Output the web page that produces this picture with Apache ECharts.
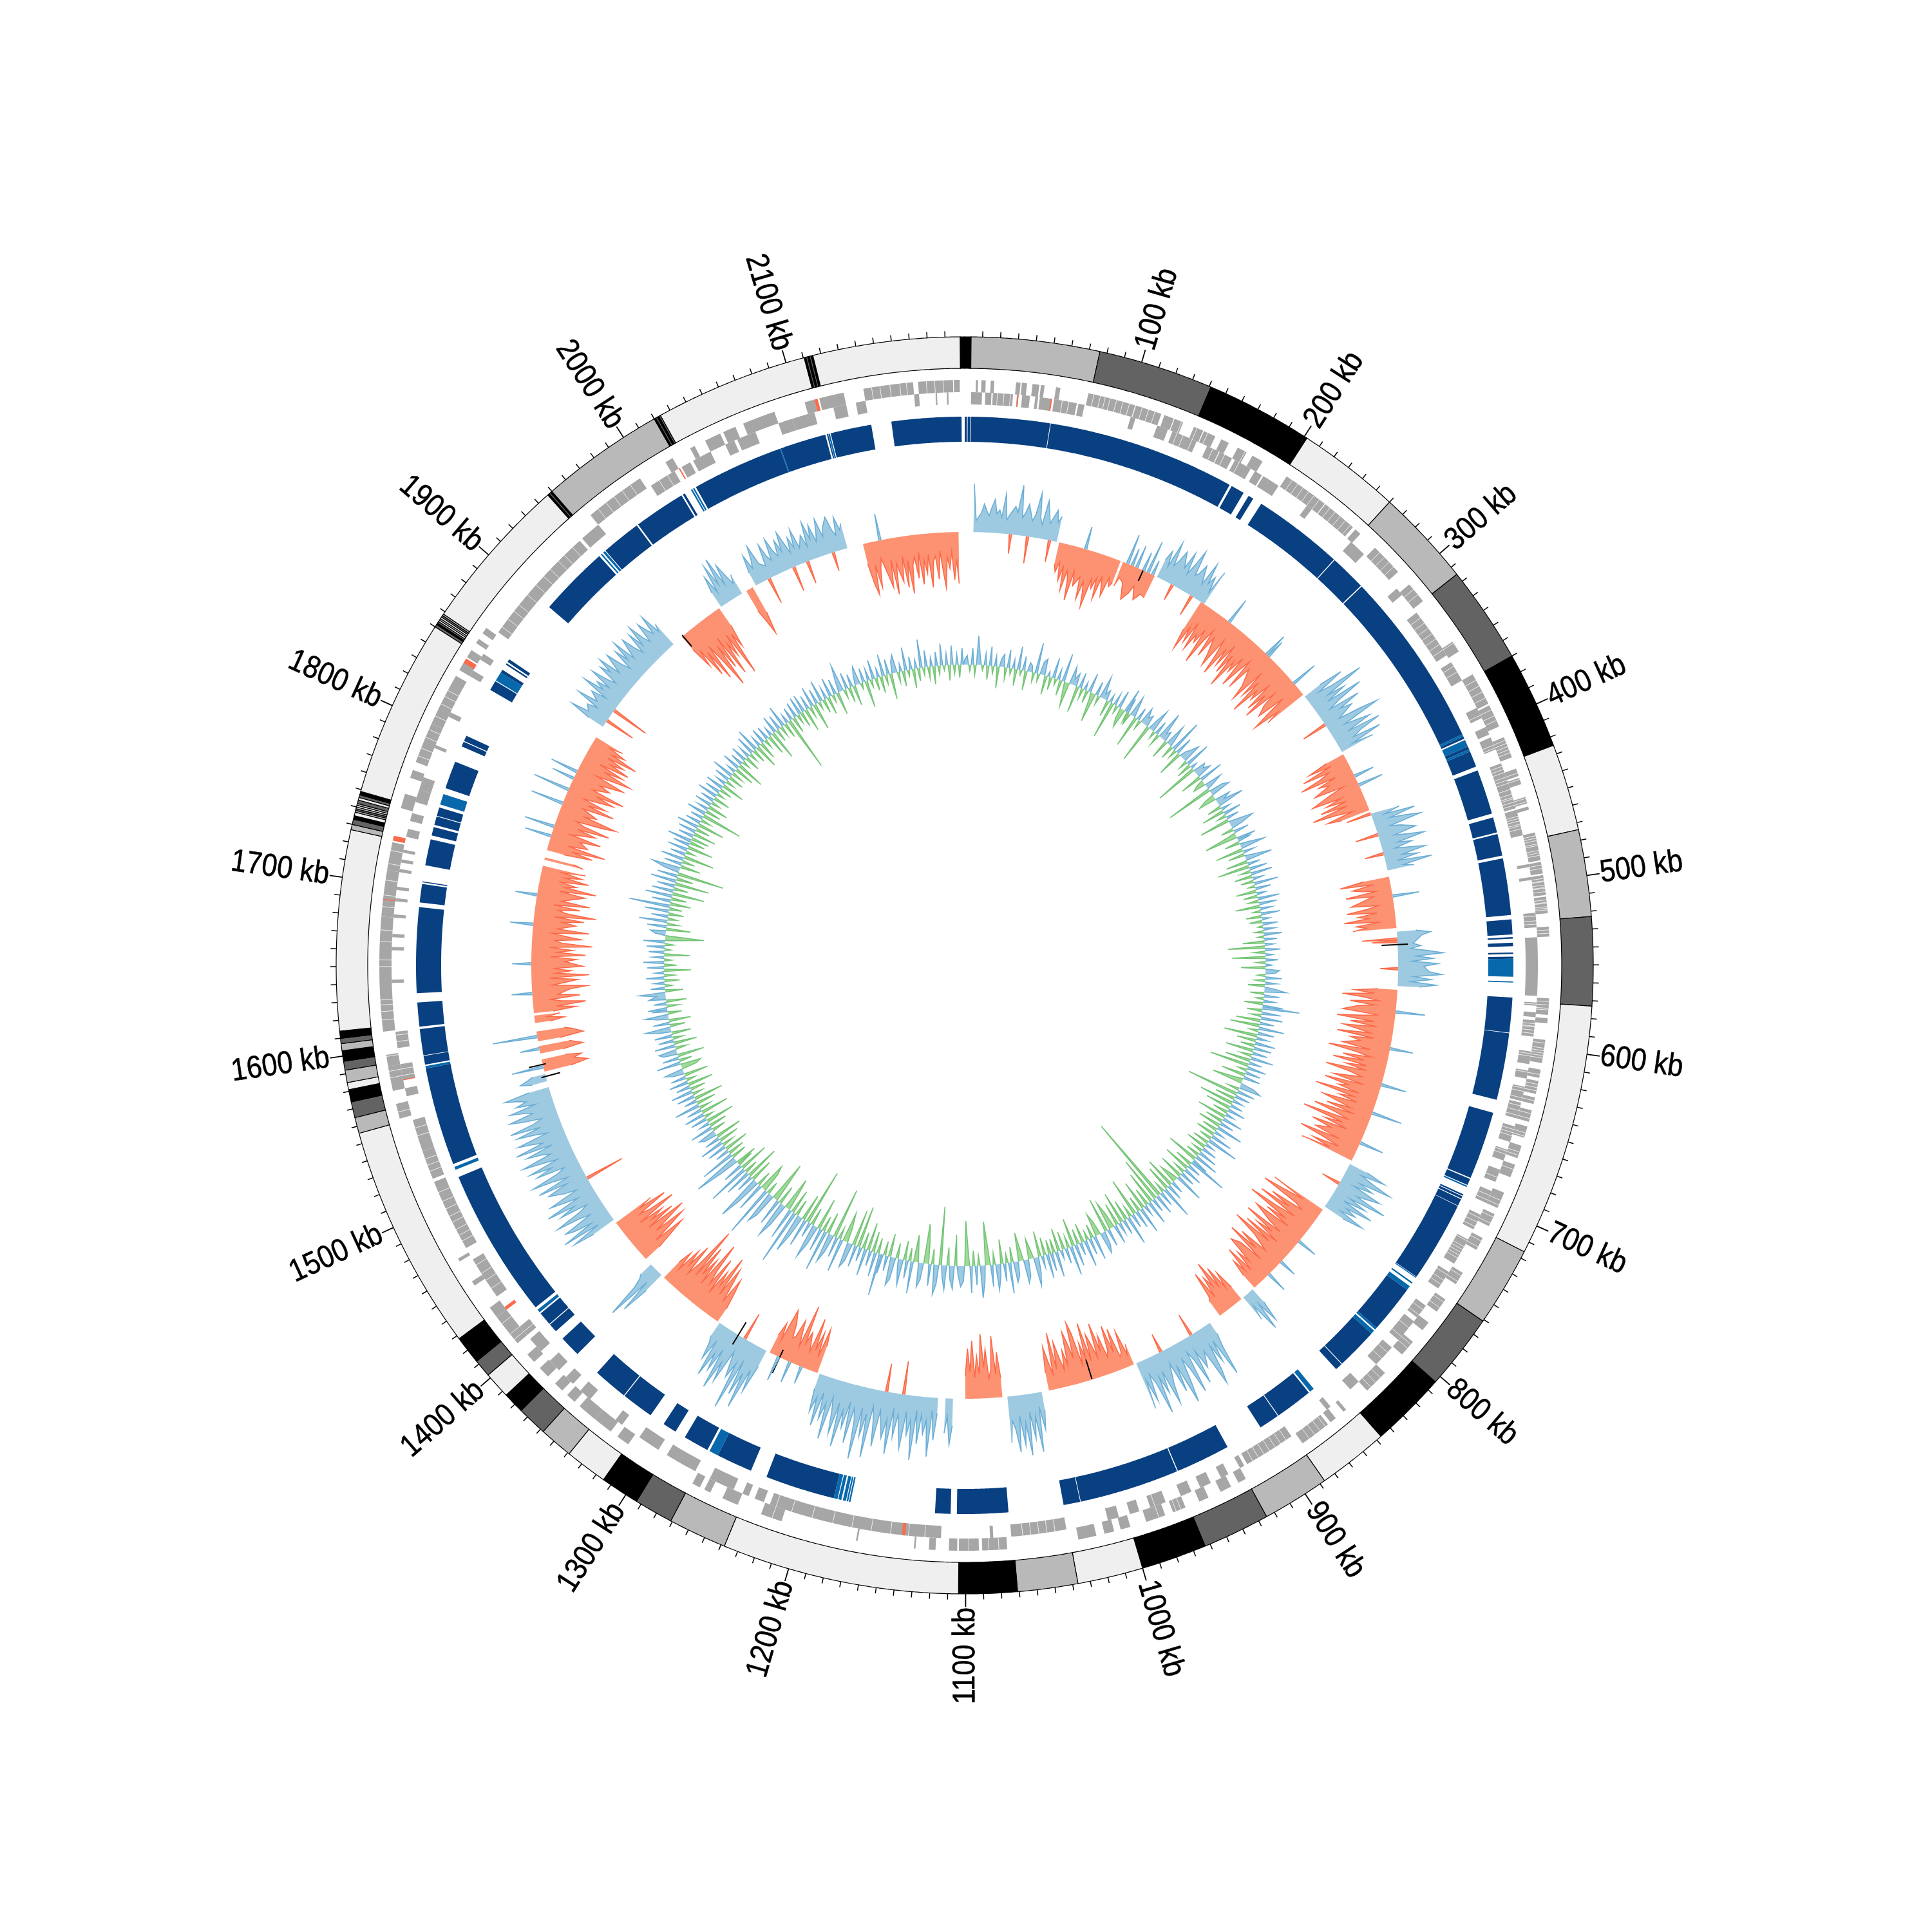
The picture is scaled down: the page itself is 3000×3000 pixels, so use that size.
<!DOCTYPE html>
<html><head><meta charset="utf-8"><style>html,body{margin:0;padding:0;background:#fff}#c{width:3000px;height:3000px}</style>
<script src="https://cdn.jsdelivr.net/npm/echarts@6/dist/echarts.min.js"></script></head>
<body><div id="c"></div>
<script>
const GENOME_KB = 2201;
const tickLabels = ['100 kb','200 kb','300 kb','400 kb','500 kb','600 kb','700 kb','800 kb','900 kb','1000 kb','1100 kb','1200 kb','1300 kb','1400 kb','1500 kb','1600 kb','1700 kb','1800 kb','1900 kb','2000 kb','2100 kb'];
const labelKb = [100,200,300,400,500,600,700,800,900,1000,1100,1200,1300,1400,1500,1600,1700,1800,1900,2000,2100];
const minorTickStepKb = 10;

const bandRows = [
[0,3.6,3],[3.6,76,1],[76,141,2],[141,201.7,3],[201.7,260,0],[260,315,1],[315,370,2],[370,425,3],[425,474,0],[474,523,1],[523,573,2],
[573,716,0],[716,761,1],[761,804,2],[804,847,3],[847,887,0],[887,925,1],[925,963,2],[963,1000,3],[1000,1037,0],[1037,1071,1],[1071,1104,3],
[1104,1238,0],[1238,1271,1],[1271,1293,2],[1293,1315,3],[1315,1339,0],[1339,1358,1],[1358,1375,2],[1375,1387,3],[1387,1402,0],[1402,1412,2],[1412,1428,3],
[1428,1556,0],[1556,1565,1],[1565,1574,2],[1574,1581,3],[1581,1585,0],[1585,1592,1],[1592,1597,2],[1597,1603,3],[1603,1607,1],[1607,1610,2],[1610,1614,3],
[1614,1727,0],[1727,1730,1],[1730,1733,2],[1733,1735,3],[1735,1737,0],[1737,1738,1],[1738,1739,2],[1739,1740,1],[1740,1741,0],[1741,1742,1],[1742,1744,2],[1744,1745.5,0],[1745.5,1747,2],[1747,1749,3],
[1749,1850,0],[1850,1851.5,2],[1851.5,1852.5,3],[1852.5,1853.5,2],[1853.5,1854.5,0],[1854.5,1855.5,1],[1855.5,1856.5,0],[1856.5,1857.5,2],[1857.5,1858.5,1],
[1858.5,1947,0],[1947,1948,3],[1948,1949,2],[1949,1950,3],[1950,2020,1],[2020,2021,3],[2021,2022,2],[2022,2023,3],[2023,2024,2],
[2024,2110.5,0],[2110.5,2111.5,3],[2111.5,2112.5,2],[2112.5,2113.5,3],[2113.5,2114.5,2],[2114.5,2115.5,3],[2115.5,2198.5,0],[2198.5,2201,3]];

const contigDark = [[0,1.4],[1.9,3.4],[3.8,54.8],[55.2,176.5],[178,186.8],[190.5,194],[200,258.6],[259.2,282.6],[283.3,398],[399.5,401],[406.5,408.5],[410,420.4],[423,452],[454.6,464.5],[465.6,479.7],[481.5,518],[520.8,530.5],[532.2,533.2],[535.8,538],[542,543],[544.7,546],[570.8,593.3],[593.7,637],[645.6,689.6],[690.3,694.5],[701,702],[702.5,704],[704.5,709],[709.3,761.6],[772,803],[808,834.8],[835.3,840],[863,887.3],[887.8,901],[925.5,960.7],[961.3,1025.8],[1026.2,1037],[1072.5,1105.5],[1109.5,1119.5],[1185,1230],[1240.7,1264],[1271.5,1288],[1295,1304],[1314,1334.7],[1335.3,1357.7],[1375,1388.7],[1395,1400.7],[1401.3,1410],[1415,1512],[1521,1584.5],[1587,1592.6],[1593,1610],[1611.5,1627],[1633,1688],[1691,1703],[1704,1704.6],[1715,1732],[1734.5,1740],[1741.5,1747],[1747.5,1753],[1766,1784],[1794.6,1797.8],[1798.4,1802],[1835,1841.5],[1848,1850],[1854,1855],[1856,1858],[1900,1945.7],[1951,1976.6],[1977.6,2011],[2012,2013.5],[2021.6,2080.7],[2081.3,2111],[2112,2112.8],[2114.5,2141],[2154,2199]];
const contigLight = [[398,399.5],[402,406.5],[408.5,410],[546,557.5],[560.5,561.2],[695,696],[761.9,762.5],[766,767],[769,772],[803,804.5],[805.5,808],[859,862],[1174,1175],[1175.5,1176.5],[1177,1179],[1180,1182],[1182.5,1185],[1264,1270],[1411,1413],[1517,1519],[1584.5,1586],[1755,1762],[1842,1848],[1947,1948],[1949,1950.5],[2018,2019],[2019.5,2020.5],[2080.7,2081.3],[2113,2114]];

const geneOuter = [[6.7,8],[10,12.6],[15.6,17.7],[30.8,33.5],[34.3,37.4],[40.7,44.8],[45.8,48],[54.9,57.6],[74.6,103.5],[104,120],[122,128],[128.5,134],[141,147],[147.5,155],[159,164],[170,176],[180,187],[204,232],[232.5,254],[256,260],[272,292],[302,315],[345,352],[368,388],[389,403],[410,423],[430,435],[436,440],[448,452],[454,456],[470,487],[488,495],[496,508],[509,519],[527,533],[570,580],[582,585],[595,609],[613,618],[620,628],[630,634],[638,645],[648,655],[660,668],[672,680],[690,700],[704,712],[720,728],[744,752],[763,772],[780,786],[795,805],[820,835],[852,854],[860,864],[866,885],[925,930],[935,942],[950,956],[965,973],[978,990],[1000,1006],[1010,1016],[1021,1032],[1075,1090],[1092,1104],[1105,1110],[1118,1122],[1130,1131],[1165,1166],[1212,1225],[1240,1250],[1258,1262],[1265,1270],[1315,1323],[1328,1340],[1340,1352],[1356,1362],[1366,1372],[1378,1385],[1390,1396],[1405,1425],[1425,1432],[1448,1451],[1465,1467],[1558,1567],[1575,1590],[1590,1597],[1611,1680],[1680,1708],[1708,1725],[1746,1755],[1765,1770],[1775,1800],[1800,1832],[1836,1842],[1845,1850],[1855,1858],[1862,1866],[1958,1995],[2013,2018],[2030,2033],[2040,2050],[2052,2060],[2065,2085],[2104,2110],[2113,2128],[2140,2170],[2173,2194],[2194.5,2198]];
const geneInner = [[3.9,10.6],[12.6,16.4],[17.2,29.6],[32,33],[35.2,40],[43.3,45],[46.1,53.6],[54.9,69],[70,73.8],[103,106],[120,127],[130,146],[153,161],[161.5,170],[172,183],[186,191],[192,203],[224,228],[259,270],[299,304],[318,350],[355,368],[387,394],[400,405],[407,415],[424,453],[454,470],[488,490],[496,498],[518,527],[533,569],[573,575],[579,582],[584,594],[603,611],[615,620],[625,634],[635,645],[650,660],[665,672],[678,686],[692,700],[708,718],[725,742],[748,760],[773,782],[785,800],[806,820],[835,842],[858,861],[888,920],[922,925],[933,938],[945,952],[958,965],[975,985],[992,998],[1005,1012],[1038,1072],[1083,1085],[1115,1222],[1226,1232],[1236,1240],[1246,1262],[1272,1292],[1298,1312],[1325,1330],[1350,1358],[1364,1370],[1376,1384],[1392,1402],[1405,1412],[1435,1462],[1470,1515],[1517,1535],[1535,1555],[1570,1575],[1580,1590],[1600,1610],[1640,1642],[1660,1662],[1668,1670],[1680,1682],[1690,1692],[1697,1699],[1708,1710],[1714,1716],[1720,1722],[1730,1735],[1740,1745],[1752,1760],[1760,1768],[1787,1789],[1808,1811],[1836,1840],[1848,1852],[1868,1943],[1945,1958],[1998,2015],[2020,2026],[2028,2040],[2050,2056],[2058,2070],[2085,2094],[2094,2108],[2120,2128],[2134,2140],[2170,2173],[2183,2184],[2190,2191]];
const geneMarkedOuter = [[1726,1729],[1841,1844],[2110,2112],[1690,1690.6]];
const geneMarkedInner = [[32.3,33],[52.8,53.6],[1137,1139],[2018,2018.8],[1425,1427],[1580,1580.5]];
const geneBreaks = [20,24,28,60,64,78,82,85,88,92,96,100,108,112,116,133,137,143,150,157,165,175,208,212,216,220,224,228,236,240,244,248,252,276,280,284,288,306,310,322,326,330,334,338,342,346,358,362,372,376,380,384,392,396,399,412,414,416,418,420,426,428,430,433,435,437,441,444,446,447,449,451,458,459.5,461,463,464,466,472,473.5,475,477,478,481,482.5,484,490,492,498,499.5,500,502,503.5,504,506,511,512.5,513,515,516,517,520,523,525,529,531,572,574,576,577,586,587.5,588,590,592,597,600,601.5,603,604.5,606,616,622,624,626,628,632,637,640,643,647,652,654,656,664,666,668,675,683,688,695,698,706,710,713,716,722,726,730,732,734,736,738,746,750,754,757,765,769,776,780,790,797,800,810,815,824,828,832,868,872,876,880,892,896,900,904,908,912,916,968,971,982,1045,1050,1055,1060,1065,1080,1086,1098,1125,1135,1146,1158,1170,1182,1195,1208,1218,1408,1412,1420,1441,1447,1452,1458,1475,1479,1483,1488,1492,1497,1502,1508,1522,1526,1530,1545,1550,1562,1583,1587,1596,1604,1608,1618,1623,1627,1630,1650,1654,1665,1672,1686,1693,1702,1712,1720,1779,1784,1791,1796,1805,1813,1818,1822,1872,1878,1884,1889,1897,1905,1912,1918,1925,1930,1937,1964,1970,1976,1982,1988,2004,2010,2145,2150,2156,2162,2166,2178,2183,2188];

// signed coverage: 2 kb bins
const cov0007 = [75,18,24,30,44,34,26,40,52,30,36,25,62,22,30,-30,44,35,78,28,36,50,-42,25,36,70,32,22,60,42,26,-34,48,30,40];
const cov0077 = [-34,-46,-30,-58,-36,-72,-40,-52,-85,-38,-60,36,-44,-78,-50,-66,-88,-42,-56,-38,-70,-34,-48,-62,-30,-44,-36];
const cov0131 = [-40,-25,48,-30,28,-55,36,-42,-28,30,-48,52,-35,24,-38];
const cov0161 = [30,46,22,64,28,38,56,-26,32,60,26,44,70,30,36,52,-34,24,62,30,44,20,58];
const cov0202 = [-50,-82,-42,-66,-30,-74,-46,-58,-32,-88,-48,-26,-70,-34,42,-60,-78,-28,-52,-85,-36,-64,-24,-72,-38,-92,-44,-60,-30,-80,-50,-26,-76,-36,38,30,-62,-84,-26,-70,-40,-96,-52,-66,-30,-78,-46,-88,-34,-58,42,-74,-28,-64,-90,-48,-70];
const cov0316 = [30,68,22,44,95,30,58,24,82,40,20,70,34,52,-40,24,60,88,26,46,66,24,78,42,28,72,22,55];
const cov0372 = [-30,-62,-26,-76,-34,-50,-85,-28,-58,-42,32,-70,-24,-48,40,-80,-34,-60,-28,-72,-30,-88,-52,-26,-68,-46];
const cov0425 = [-40,46,20,68,26,52,73,22,38,-36,60,24,44,70,26,48,20,-30,66,28,52,18,72,26,42];
const cov0478 = [-40,-78,-26,-60,-46,-24,-72,-30,42,-54,-66,-24,-44,-74,-28,-58,-42,-80,-24,-62,-46,-68];
const cov0523 = [30,52,38,-55,-40,24,36,20,46,70,28,55,22,62,40,-28,48,68,24,52,20,60,34];
const cov0570 = [-30,-66,-36,-85,-50,-28,-72,-34,-60,46,-82,-26,-52,-90,-32,-68,-26,-78,-56,-34,-86,-28,-64,-48,36,-75,-30,-95,-52,-26,-70,-36,-84,-30,-62,-28,-92,-54,-32,40,-76,-26,-88,-50,-64,-30,-98,-36,-58,-28,-82,48,-34,-72,-26,-90,-54,-30,-104,-38,-66,-28,-84,-52,38,-74,-32,-96,-58,-28,-70,-40,-86];
const cov0717 = [30,62,24,46,78,28,52,22,70,-30,34,85,26,56,20,72,30,48,24,66,34];
const cov0760 = [-90,-34,-66,-102,-40,-28,-80,-46,-96,-30,-62,-108,-38,-72,-28,-88,32,-58,-32,-94,-42,-70,-26,-84,-36,-100,-60,28,-30,-76,-44,-92,-26,-66,34,-80,-36,-58,-24,-70,-30,-52,-26];
const cov0846 = [26,58,24,68,20,44];
const cov0858 = [-24,-56,-30,-70,-36,-84,-44,-62,-28,-74,-34,-26];
const cov0890 = [20,42,88,26,60,30,70,92,32,-36,56,24,78,36,20,86,44,26,64,95,30,72,22,-30,54,84,28,62,34,92,40,24,66,30,76];
const cov0960 = [-34,-18,-58,-24,-20,-66,-30,-74,-36,-26,-62,-40,-84,-30,-52,-70,-28,-90,-36,-60,-24,-78,-96,-40,-66,-84,-32,-56,-26,-48,-72,-30,-88,-24,-44,-68,-28];
const cov1038 = [28,58,22,92,36,70,28,95,44,78,32,88,52,38,72];
const cov1070 = [-30,-70,-36,-96,-44,-30,-76,-48,-100,-38,-66,-32,-90,-42,-78,-36];
const cov1110 = [42,72,28,54];
const cov1119 = [-110];
const cov1122 = [24,66,20,92,36,58,28,74,22,100,38,62,26,84,-52,32,68,24,96,42,72,-44,30,88,48,26,108,40,76,32,114,54,36,92,28,70,44,102,34,84,50,28,96,40,66,26,80,36,60,24];
const cov1222 = [-44,-70,-24,-62,-32,-82,-26,28,-56,-36,-96,-28,34,-68,-40,-36,-58,40,-78,-26,-52,-30];
const cov1267 = [28,72,38,104,48,86,30,114,40,66,-44,26,80,50,96,32,70,44,84,26,60,34,24];
const cov1313 = [-24,-52,-72,-30,-60,-84,-36,-100,-48,-70,-28,-88,-40,-62,-108,-32,-74,-44,-92,-36,-118,-52,-30,-80,-42,-66,-26,-56,-34];
const cov1372 = [34,78,24,95,44,28,22];
const cov1390 = [-28,-58,-82,-32,-66,-92,-42,-72,-100,-36,-84,-48,-70,-30,-96,-54,-38,-88,-44,-66];
const cov1431 = [38,72,24,84,32,60,74,26,44,80,36,22,66,40,84,28,50,72,24,42,-62,66,32,78,26,48,82,36,24,68,42,76,28,52,82,34,46,70,26,84,38,54,76,26,44,72,32,80,40,26,54,75,36,48,70,28,58,40,52,72,32];
const cov1556 = [24,42,30,20];
const cov1564 = [-42,-70,50,-50,-62,-38];
const cov1579 = [-36,-68,30,-48];
const cov1589 = [-34,-72,70,-56,-44];
const cov1604 = [-24,-46,-20,-40];
const cov1612 = [-30,-66,-36,-82,-44,-28,-74,-40,32,-60,-86,-32,-54,-72,-28,-90,-38,-62,-34,-80,30,-52,-70,-30,-84,-40,-64,-28,-94,-46,-36,-76,-52,-30,-88,-38,36,-66,-44,-78,-32,-96,-48,-36,-70,-28,-84,-40,34,-62,-74,-34,-90,-42,-58,-30,-76,-38,-64,-32,-68];
const cov1737 = [-62,-46];
const cov1745 = [-28,-72,-38,-90,-30,-60,42,-46,-78,-28,48,-66,-36,-86,-44,-30,-70,-92,-40,-58,52,-32,-82,-38,-66,-28,58,-74,-44,-88,-34,36,-60,-42,44,-78,-30,-56,-84,-38,-68,-26,-74,-42,-62,-32,-80,-36,-56,-28,-48];
const cov1855 = [26,60,32,-48,40,24,62,30,-60,46,22,66,34,48,28,64,38,24,58,42,66,30,46,62,36,22,56,34,66,28,44,60,38,24,58,32,66,40,28,60,44,34,64,30,42];
const cov1952 = [-26,-62,-34,-84,-44,-96,-38,-70,-116,-46,-88,-36,-104,-52,-76,-40,-112,-44,-68,-32];
const cov1992 = [26,52,22,66,32,74,26,58,38,20,34];
const cov2016 = [-36,-56,-79,-44];
const cov2025 = [22,50,26,38,60,28,-42,20,54,32,24,58,36,26,50,30,60,-40,22,46,28,56,24,-36,42,22,60,32,52,24,38,58,28,42,-30,56,34,24,52,30,40];
const cov2111 = [-44];
const cov2118 = [-32,-66,-82,-36,-72,-44,-28,42,-60,-76,-32,-88,-40,-56,-70,-30,-80,-38,-90,-46,-34,-68,-28,-78,-40,-62,-32,-84,-44,-36,-72,-28,-60,-86,-38,-56,-30,-74,-42,-80];
const coverageSections = [[7,cov0007],[77,cov0077],[131,cov0131],[161,cov0161],[202,cov0202],[316,cov0316],[372,cov0372],[425,cov0425],[478,cov0478],[523,cov0523],[570,cov0570],[717,cov0717],[760,cov0760],[846,cov0846],[858,cov0858],[890,cov0890],[960,cov0960],[1038,cov1038],[1070,cov1070],[1110,cov1110],[1119,cov1119],[1122,cov1122],[1222,cov1222],[1267,cov1267],[1313,cov1313],[1372,cov1372],[1390,cov1390],[1431,cov1431],[1556,cov1556],[1564,cov1564],[1579,cov1579],[1589,cov1589],[1604,cov1604],[1612,cov1612],[1737,cov1737],[1745,cov1745],[1855,cov1855],[1952,cov1952],[1992,cov1992],[2016,cov2016],[2025,cov2025],[2111,cov2111],[2118,cov2118]];
const blackMarks = [[148.6,655,680],[533.5,648,689],[996,640,672],[1255,660,700],[1293,650,690],[1560,650,680],[1570,668,695],[1953,652,675]];

// signed skew: 3 kb bins, rows of 200 kb
const skew0000 = [8,14,-10,26,-16,45,10,-8,18,-22,30,-12,16,-34,12,20,-18,28,-10,14,-26,36,-8,22,-30,14,10,-14,48,-12,20,26,-30,8,-20,32,-10,16,-24,44,-14,-38,28,10,20,-42,24,-16,12,-20,30,-10,-46,22,-14,34,8,16,-26,12,-58,18,-12,28,-18,-30,38,-16];
const skew0200 = [24,-20,32,10,-50,20,-14,26,12,18,-62,14,36,-12,22,-18,44,10,16,-30,34,12,-22,52,-14,28,-40,10,18,30,-14,40,-24,10,-68,20,14,24,-34,38,-12,-20,28,10,-74,22,32,-16,-28,24,12,42,-22,14,-36,28,-14,20,-48,12,38,18,-20,24,-12,-52,30];
const skew0400 = [22,-24,14,38,-44,18,-26,12,42,-34,20,-50,28,-16,34,-28,16,-20,38,-10,24,-32,14,-22,34,-16,28,-38,18,-12,30,-24,12,-20,24,-8,18,-14,28,-10,20,-34,14,-57,24,-18,12,-52,20,-14,10,-38,22,16,-12,26,-16,18,-26,14,34,-22,24,-12,18,-30,32];
const skew0600 = [58,-24,30,-16,34,-38,22,-46,40,-14,26,-52,18,-30,32,-22,28,-44,24,-18,36,-40,20,-62,30,-14,24,-38,26,-12,-48,22,34,-18,28,-82,24,-32,16,-54,20,-40,28,-24,14,-46,32,-28,22,-36,42,-24,16,-30,34,-20,50,-26,14,-32,24,-16,30,-22,38,-50,26];
const skew0800 = [62,-28,22,-42,30,-18,24,-38,46,-14,-30,20,-48,26,-40,52,-16,24,-139,32,-72,22,-52,38,-28,16,-46,42,-24,28,-60,22,-18,46,-32,24,-50,18,-36,30,-24,-44,28,-54,22,34,-20,-36,38,-22,26,-14,42,-30,20,-24,34,-44,46,-18,24,-28,14,-36,40,-22,28];
const skew1000 = [-22,38,-28,18,-40,24,44,-12,-32,26,36,-16,-44,22,32,-24,48,-14,28,-38,20,40,-18,34,-26,-68,24,50,-16,30,-24,42,-20,-70,24,32,14,-48,36,22,-28,38,18,-91,30,46,-24,34,-32,-62,26,38,-14,-42,50,-20,28,-30,40,16,-24,34,44,-36,24,-22,30];
const skew1200 = [66,-24,38,-32,24,-44,42,-26,22,-65,34,-56,28,40,-24,-46,52,-18,32,-79,28,46,-34,64,-24,36,-50,30,54,-28,24,-88,44,-42,32,62,-26,87,-38,50,-22,-52,36,58,-30,42,-24,-64,38,52,-20,81,-32,-44,46,-24,40,72,-36,28,-54,42,-22,66,-47,32,-26];
const skew1400 = [-34,30,73,-24,54,-26,22,-38,30,-18,38,-32,24,-42,20,28,-22,36,-28,16,-45,26,-14,32,-44,24,-18,40,-30,20,-46,28,-16,34,-24,22,-40,30,-14,24,-38,18,30,-24,-32,38,-20,26,-42,22,28,-18,32,-36,24,-16,28,-30,20,40,-24,26,-34,16,36,-22,24];
const skew1600 = [30,-18,20,-32,26,14,40,-28,22,-12,16,-24,28,-16,14,-42,26,-20,32,-12,18,-40,24,-10,28,-14,34,-22,-60,16,24,-38,30,-18,44,-14,26,-24,38,-20,64,-32,30,-24,42,-50,34,-22,28,-54,40,-26,32,-73,24,44,-32,28,-20,36,-48,24,-14,32,-40,26,-24];
const skew1800 = [38,-28,24,-36,28,-22,34,-42,24,-16,20,-64,30,-24,18,-32,26,-14,22,-26,32,-12,24,-20,28,-36,16,-14,24,-24,34,-18,14,-32,28,-44,20,-12,26,-24,18,-14,30,-22,37,-38,16,-28,24,-14,22,-32,14,-46,28,-20,24,-16,34,-24,14,-85,20,-26,24,-14,28];
const skew2000 = [-24,28,-36,22,-16,32,-42,24,-12,34,-22,18,-28,30,-12,24,-36,16,42,-14,26,-24,20,-32,14,28,-10,22,-42,18,-12,30,-20,14,-26,34,-14,24,-40,18,28,-16,12,-24,36,-10,20,-30,14,-20,44,-12,26,-18,14,-28,22,-14,34,-8,18,-24,30,-14,16,-20,26];
const skewRows = [[0,skew0000],[200,skew0200],[400,skew0400],[600,skew0600],[800,skew0800],[1000,skew1000],[1200,skew1200],[1400,skew1400],[1600,skew1600],[1800,skew1800],[2000,skew2000]];

const covBinKb = 2, skewBinKb = 3;
const R = {outer:976, ideoIn:927, tickMinor:985, tickMajor:996, label:997, geneOutHi:909, geneMid:890, geneInLo:871, contigHi:852, contigLo:813, covBase:673, skewBase:467};
const bandColors = ['#efefef','#b9b9b9','#636363','#000000'];
const C = {gene:'#a6a6a6',mark:'#fb6a4a',dark:'#084081',light:'#0868ac',covPos:'#9ecae1',covPosLine:'#6baed6',covNeg:'#fc9272',covNegLine:'#fb6a4a',skewNeg:'#a1d99b',skewNegLine:'#74c476'};
const LW = 1.6;

function arcPoly(api,a,b,r0,r1){
  const pts=[], n=Math.max(1,Math.ceil(b-a));
  for(let i=0;i<=n;i++) pts.push(api.coord([r1,a+(b-a)*i/n]));
  for(let i=n;i>=0;i--) pts.push(api.coord([r0,a+(b-a)*i/n]));
  return pts;
}
function ribbon(data,r0,r1,fill,extra){
  return {type:'custom',coordinateSystem:'polar',silent:true,animation:false,data:data,
    renderItem:(p,api)=>{
      const a=api.value(0),b=api.value(1);
      const col=typeof fill==='function'?fill(api.value(2)):fill;
      return {type:'polygon',shape:{points:arcPoly(api,a,b,r0,r1)},style:Object.assign({fill:col},extra||{})};
    }};
}
// A section has one dominant sign that fills a band; opposite bins are thin spikes on top of it.
function sectionSeries(sections,base,bin,posF,posL,negF,negL){
  return {type:'custom',coordinateSystem:'polar',silent:true,animation:false,data:sections.map((s,i)=>[i]),
    renderItem:(p,api)=>{
      const [start,vals]=sections[api.value(0)];
      const sum=vals.reduce((a,v)=>a+Math.sign(v),0), dom=sum>=0?1:-1;
      const main=[],kids=[];
      vals.forEach((v,i)=>{const kb=start+i*bin;
        if(Math.sign(v)===dom) main.push(api.coord([base+v,kb]));
        else{const sp=[api.coord([base,kb-1]),api.coord([base+v,kb]),api.coord([base,kb+1])];
          kids.push({type:'polygon',z2:2,shape:{points:sp},style:{fill:v>0?posF:negF}});
          kids.push({type:'polyline',z2:2,shape:{points:sp},style:{stroke:v>0?posL:negL,fill:null,lineWidth:LW}});}
      });
      const end=start+(vals.length-1)*bin, baseArc=[];
      for(let k=end;k>=start;k-=1) baseArc.push(api.coord([base,k]));
      if(main.length>1){
        kids.unshift({type:'polyline',z2:1,shape:{points:main},style:{stroke:dom>0?posL:negL,fill:null,lineWidth:LW}});
        kids.unshift({type:'polygon',z2:0,shape:{points:main.concat(baseArc)},style:{fill:dom>0?posF:negF}});
      }
      return {type:'group',children:kids};
    }};
}
// Alternating track: every run of one sign gets its own wedge.
function toRuns(rows,bin){
  const runs=[];
  rows.forEach(([start,vals])=>{
    let cur=null;
    vals.forEach((v,i)=>{const s=Math.sign(v),kb=start+i*bin;
      if(!cur||cur.s!==s){cur={s:s,pts:[]};runs.push(cur);}
      cur.pts.push([kb,v]);});
  });
  return runs;
}
function runSeries(rows,base,bin,posF,posL,negF,negL){
  const runs=toRuns(rows,bin);
  return {type:'custom',coordinateSystem:'polar',silent:true,animation:false,data:runs.map((r,i)=>[i]),
    renderItem:(p,api)=>{
      const run=runs[api.value(0)], a=run.pts[0][0], b=run.pts[run.pts.length-1][0];
      const pts=[api.coord([base,a-1.4])].concat(run.pts.map(q=>api.coord([base+q[1],q[0]])),[api.coord([base,b+1.4])]);
      return {type:'group',children:[
        {type:'polygon',shape:{points:pts},style:{fill:run.s>0?posF:negF}},
        {type:'polyline',shape:{points:pts},style:{stroke:run.s>0?posL:negL,fill:null,lineWidth:LW}}
      ]};
    }};
}
const tickKb=[]; for(let k=minorTickStepKb;k<GENOME_KB-5;k+=minorTickStepKb) tickKb.push(k);

const chart=echarts.init(document.getElementById('c'),null,{renderer:'canvas',width:3000,height:3000});
chart.setOption({
  animation:false,backgroundColor:'#ffffff',
  polar:{center:[1498,1499],radius:[0,1200]},
  angleAxis:{type:'value',min:0,max:GENOME_KB,startAngle:90,clockwise:true,show:false},
  radiusAxis:{type:'value',min:0,max:1200,show:false},
  series:[
    ribbon(bandRows,R.ideoIn,R.outer,v=>bandColors[v],{stroke:'#000',lineWidth:1.2}),
    {type:'custom',coordinateSystem:'polar',silent:true,animation:false,data:tickKb.map(k=>[k]),
      renderItem:(p,api)=>{const k=api.value(0),a=api.coord([R.outer,k]),
        b=api.coord([k%100===0?R.tickMajor:R.tickMinor,k]);
        return {type:'line',shape:{x1:a[0],y1:a[1],x2:b[0],y2:b[1]},style:{stroke:'#000',lineWidth:k%100===0?1.8:1.5}};}},
    {type:'custom',coordinateSystem:'polar',silent:true,animation:false,data:labelKb.map((k,i)=>[k,i]),
      renderItem:(p,api)=>{const k=api.value(0),t=tickLabels[api.value(1)],pt=api.coord([R.label,k]);
        const th=k/GENOME_KB*360, right=k<1090;
        const rot=(right?90-th:270-th)*Math.PI/180;
        return {type:'text',x:pt[0],y:pt[1],rotation:rot,scaleX:0.88,style:{text:t,fill:'#000',stroke:'#000',lineWidth:0.6,align:right?'left':'right',verticalAlign:'middle',fontFamily:'"Liberation Sans",sans-serif',fontSize:49}};}},
    ribbon(geneOuter,R.geneMid,R.geneOutHi,C.gene),
    ribbon(geneInner,R.geneInLo,R.geneMid,C.gene),
    {type:'custom',coordinateSystem:'polar',silent:true,animation:false,data:geneBreaks.map(k=>[k]),
      renderItem:(p,api)=>{const k=api.value(0),a=api.coord([R.geneInLo,k]),b=api.coord([R.geneOutHi,k]);
        return {type:'line',shape:{x1:a[0],y1:a[1],x2:b[0],y2:b[1]},style:{stroke:'#fff',lineWidth:0.8}};}},
    ribbon(geneMarkedOuter,R.geneMid,R.geneOutHi,C.mark),
    ribbon(geneMarkedInner,R.geneInLo,R.geneMid,C.mark),
    ribbon(contigDark,R.contigLo,R.contigHi,C.dark),
    ribbon(contigLight,R.contigLo,R.contigHi,C.light),
    sectionSeries(coverageSections,R.covBase,covBinKb,C.covPos,C.covPosLine,C.covNeg,C.covNegLine),
    {type:'custom',coordinateSystem:'polar',silent:true,animation:false,data:blackMarks,
      renderItem:(p,api)=>{const a=api.coord([api.value(1),api.value(0)]),b=api.coord([api.value(2),api.value(0)]);
        return {type:'line',shape:{x1:a[0],y1:a[1],x2:b[0],y2:b[1]},style:{stroke:'#000',lineWidth:2}};}},
    runSeries(skewRows,R.skewBase,skewBinKb,C.covPos,C.covPosLine,C.skewNeg,C.skewNegLine)
  ]
});
</script></body></html>
